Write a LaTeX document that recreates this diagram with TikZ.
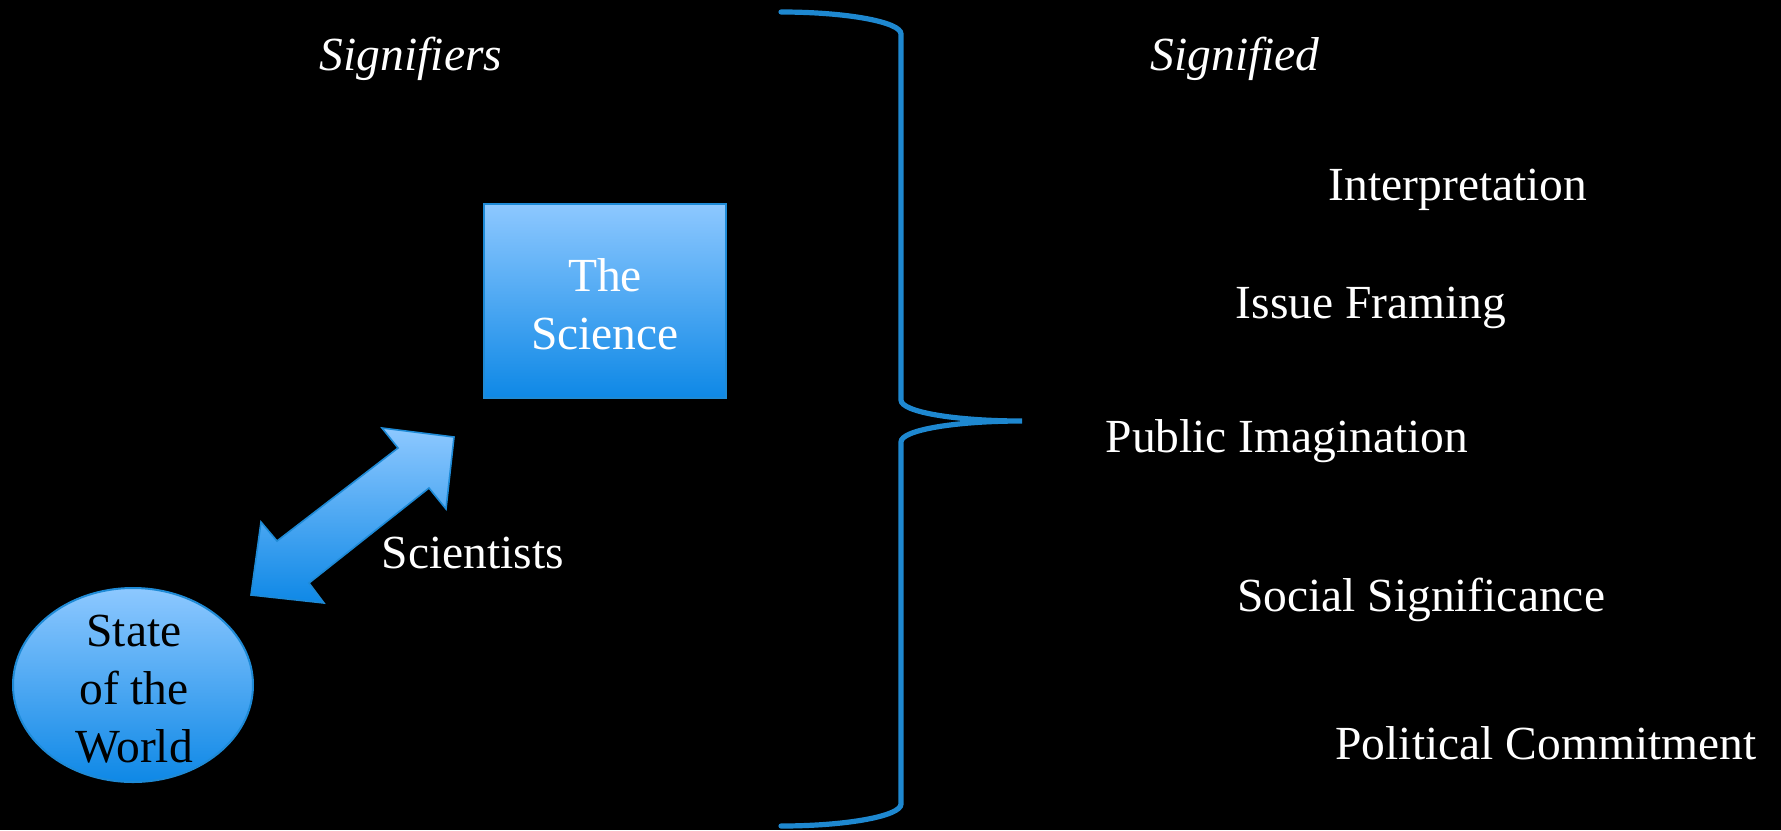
\documentclass[tikz,border=0pt]{standalone}
\usepackage{fontspec}
\setmainfont{Liberation Serif}
\usetikzlibrary{shapes.geometric}
\definecolor{lightblue}{HTML}{8DC8FF}
\definecolor{deepblue}{HTML}{0E88E6}
\definecolor{edgeblue}{HTML}{1E8AD6}
\definecolor{bracecol}{HTML}{1E88D0}
\begin{document}
\begin{tikzpicture}[x=0.5pt,y=-0.5pt,
  txt/.style={text=white,font=\fontsize{23.75}{28.5}\selectfont,anchor=base,inner sep=0pt},
  itxt/.style={txt,font=\fontsize{23.75}{28.5}\selectfont\itshape},
  gradbox/.style={draw=edgeblue,line width=1pt,top color=lightblue,bottom color=deepblue,inner sep=0pt},
  inner/.style={font=\fontsize{23.75}{29}\selectfont,align=center,inner sep=0pt}]
\fill[black] (0,0) rectangle (1781,830);
\useasboundingbox (0,0) rectangle (1781,830);

% headings
\node[itxt] (sfr) at (411,70) {Signifiers};
\node[itxt] (sfd) at (1235,70) {Signified};

% the science box
\node[gradbox,minimum width=121pt,minimum height=97pt] (sci) at (605,301) {};
\node[inner,text=white] (scit) at (605,304) {The\\Science};

% state of the world ellipse
\node[gradbox,ellipse,minimum width=120pt,minimum height=97pt] (sow) at (133,685) {};
\node[inner,text=black] (sowt) at (134,689) {State\\of the\\World};

% double block arrow
\coordinate (ta) at (454,437);
\coordinate (tb) at (251,595);
\path[top color=lightblue,bottom color=deepblue,draw=edgeblue,line width=0.8pt]
  (ta) -- (446,509) -- (429,488) -- (309,583) -- (324,603) -- (tb) -- (261,522) -- (277,541) -- (398,448) -- (382,428) -- cycle;
\node[txt] (sc) at (473,568) {Scientists};

% brace
\draw[bracecol,line width=2.6pt,line cap=round]
  (781,12) .. controls (847,12) and (901,22) .. (901,34)
  -- (901,400) .. controls (901,412) and (955,421) .. (1022,421)
  .. controls (955,421) and (901,430) .. (901,442)
  -- (901,804) .. controls (901,816) and (847,826) .. (781,826);

% signified items
\node[txt] (i1) at (1458,200) {Interpretation};
\node[txt] (i2) at (1371,318) {Issue Framing};
\node[txt] (i3) at (1287,452) {Public Imagination};
\node[txt] (i4) at (1421,611) {Social Significance};
\node[txt] (i5) at (1546,759) {Political Commitment};
\end{tikzpicture}
\end{document}
